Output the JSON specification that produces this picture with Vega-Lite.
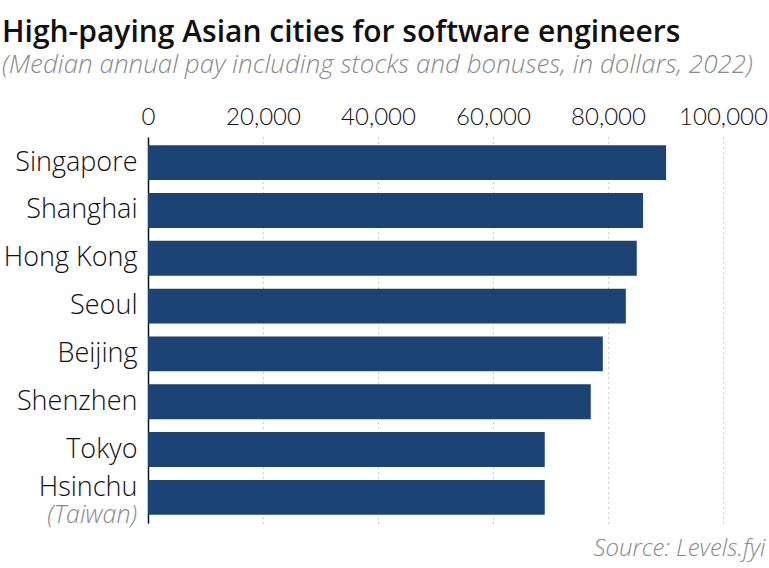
{
  "$schema": "https://vega.github.io/schema/vega-lite/v6.json",
  "width": 575,
  "height": 386,
  "autosize": {"type": "none"},
  "padding": {"left": 148, "top": 137, "right": 46, "bottom": 45},
  "background": "white",
  "config": {"view": {"stroke": null}, "font": "Open Sans"},
  "title": {
    "text": "High-paying Asian cities for software engineers",
    "subtitle": "(Median annual pay including stocks and bonuses, in dollars, 2022)",
    "anchor": "start",
    "frame": "group",
    "dx": -146,
    "offset": 27,
    "font": "Open Sans",
    "fontSize": 30,
    "fontWeight": 600,
    "color": "#111111",
    "subtitleFont": "Open Sans",
    "subtitleFontSize": 26,
    "subtitleFontStyle": "italic",
    "subtitleFontWeight": 300,
    "subtitleColor": "#8a8a8a",
    "subtitlePadding": 4
  },
  "data": {
    "values": [
      {"city": "Singapore", "pay": 90100},
      {"city": "Shanghai", "pay": 86100},
      {"city": "Hong Kong", "pay": 85000},
      {"city": "Seoul", "pay": 83100},
      {"city": "Beijing", "pay": 79100},
      {"city": "Shenzhen", "pay": 77000},
      {"city": "Tokyo", "pay": 69000},
      {"city": "Hsinchu", "pay": 69000, "note": "(Taiwan)"}
    ]
  },
  "resolve": {"axis": {"x": "independent"}},
  "layer": [
    {
      "mark": {"type": "bar", "color": "#1b4373"},
      "encoding": {
        "y": {
          "field": "city",
          "type": "nominal",
          "sort": null,
          "scale": {"paddingInner": 0.27, "paddingOuter": 0.17},
          "axis": {
            "title": null,
            "ticks": false,
            "domainColor": "#111111",
            "domainWidth": 1.5,
            "labelFont": "Open Sans",
            "labelFontWeight": 300,
            "labelFontSize": 27,
            "labelColor": "#111111",
            "labelPadding": 11,
            "labelOffset": {"condition": {"test": "datum.value === 'Hsinchu'", "value": -9}, "value": 0}
          }
        },
        "x": {
          "field": "pay",
          "type": "quantitative",
          "scale": {"domain": [0, 100000], "nice": false},
          "axis": {
            "orient": "top",
            "title": null,
            "values": [0, 20000, 40000, 60000, 80000, 100000],
            "format": ",d",
            "domain": false,
            "ticks": false,
            "labelFont": "Lato",
            "labelFontWeight": 300,
            "labelFontSize": 24,
            "labelColor": "#111111",
            "labelPadding": 8,
            "labelFlush": false,
            "grid": true,
            "gridColor": "#9a9a9a",
            "gridDash": [1, 4],
            "gridWidth": 1
          }
        }
      }
    },
    {
      "mark": {"type": "text", "font": "Open Sans", "align": "right", "baseline": "middle", "dx": -11, "dy": 18, "fontSize": 25, "fontStyle": "italic", "fontWeight": 300, "color": "#8a8a8a"},
      "transform": [{"filter": "datum.note"}],
      "encoding": {
        "y": {"field": "city", "type": "nominal", "sort": null},
        "x": {"datum": 0, "type": "quantitative",
          "axis": {
            "orient": "bottom",
            "title": "Source: Levels.fyi",
            "labels": false,
            "ticks": false,
            "domain": false,
            "grid": false,
            "titleFont": "Open Sans",
            "titleFontSize": 24,
            "titleFontStyle": "italic",
            "titleFontWeight": 300,
            "titleColor": "#8a8a8a",
            "titleAlign": "right",
            "titleBaseline": "alphabetic",
            "titleX": 617,
            "titleY": 32
          }
        },
        "text": {"field": "note"}
      }
    }
  ]
}
